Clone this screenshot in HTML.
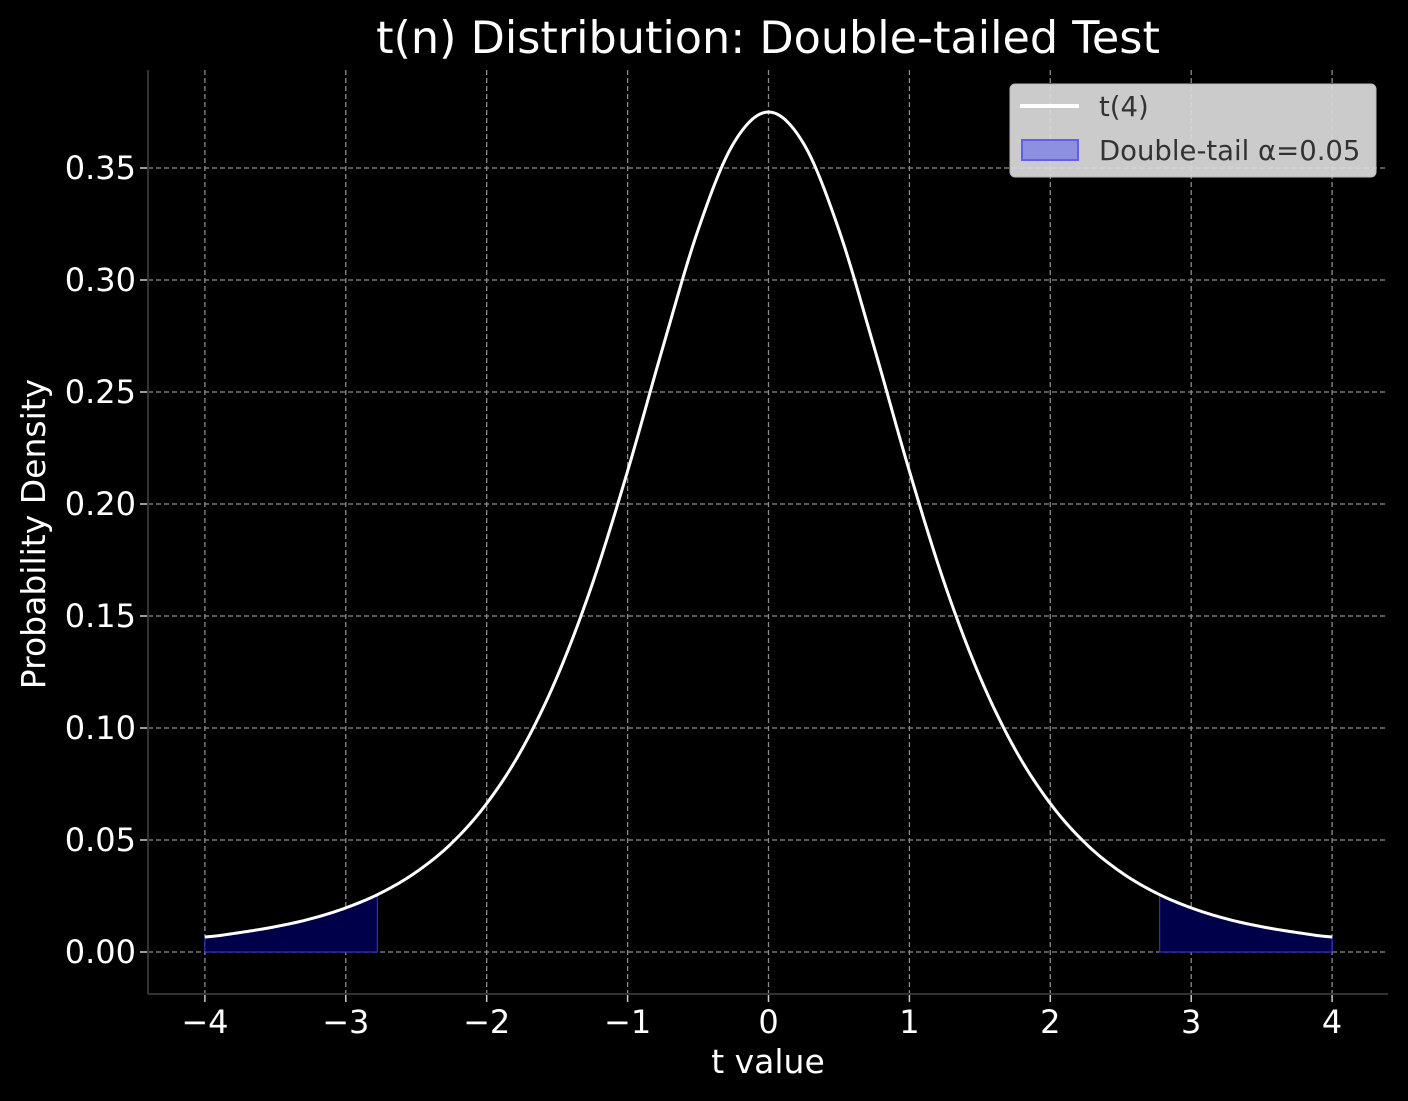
<!DOCTYPE html>
<html><head><meta charset="utf-8"><style>
html,body{margin:0;padding:0;background:#000;}
svg{display:block;font-family:"DejaVu Sans","Liberation Sans",sans-serif;}
</style></head><body>
<svg id="chart" width="1408" height="1101" viewBox="0 0 1408 1101">
<rect width="1408" height="1101" fill="#000"/>
<g id="grid"></g>
<g id="fills"></g>
<g id="curve"></g>
<g id="axes"></g>
<text x="768" y="53" fill="#fff" font-size="44.5" text-anchor="middle">t(n) Distribution: Double-tailed Test</text>
<text x="768" y="1073" fill="#fff" font-size="33" text-anchor="middle">t value</text>
<text x="45" y="534" fill="#fff" font-size="33" text-anchor="middle" transform="rotate(-90 45 534)">Probability Density</text>
<g>
<rect x="1010" y="84" width="366" height="93" rx="5" fill="rgba(220,220,220,0.92)" stroke="#bbb"/>
<line x1="1020" y1="106" x2="1079" y2="106" stroke="#fff" stroke-width="4"/>
<text x="1099" y="116" fill="#333" font-size="27.5">t(4)</text>
<rect x="1022" y="140" width="56" height="20" fill="#8f8fe0" stroke="#6060f0" stroke-width="2"/>
<text x="1099" y="160" fill="#333" font-size="27.5">Double-tail α=0.05</text>
</g>
</svg>
<script>
const xValues=[-4,-3.75,-3.5,-3.25,-3,-2.75,-2.5,-2.25,-2,-1.75,-1.5,-1.25,-1,-0.75,-0.5,-0.25,0,0.25,0.5,0.75,1,1.25,1.5,1.75,2,2.25,2.5,2.75,3,3.25,3.5,3.75,4];
const densityValues=[0.0067,0.0087,0.0113,0.0148,0.0197,0.0264,0.0357,0.0485,0.0663,0.0905,0.1229,0.1644,0.2147,0.2699,0.3223,0.3608,0.375,0.3608,0.3223,0.2699,0.2147,0.1644,0.1229,0.0905,0.0663,0.0485,0.0357,0.0264,0.0197,0.0148,0.0113,0.0087,0.0067];
const criticalValue=2.776;
const xTicks=[-4,-3,-2,-1,0,1,2,3,4];
const xTickLabels=["−4","−3","−2","−1","0","1","2","3","4"];
const yTicks=[0,0.05,0.10,0.15,0.20,0.25,0.30,0.35];
const yTickLabels=["0.00","0.05","0.10","0.15","0.20","0.25","0.30","0.35"];
const NS="http://www.w3.org/2000/svg";
const L=148,R=1388,T=70,B=994;
const sx=v=>768.5+v*140.9;
const sy=v=>952-v*2240;
function mk(tag,attrs,parent){const e=document.createElementNS(NS,tag);for(const k in attrs)e.setAttribute(k,attrs[k]);parent.appendChild(e);return e;}
const grid=document.getElementById('grid'),axes=document.getElementById('axes');
xTicks.forEach((t,i)=>{
 const g=mk('line',{x1:sx(t),x2:sx(t),y1:T,y2:B,stroke:'#8a8a8a','stroke-width':1.3,'stroke-dasharray':'5,3'},grid);
 
 
 const tk=mk('line',{x1:sx(t),x2:sx(t),y1:B,y2:B+8,stroke:'#ccc','stroke-width':1.5},axes);
 
 
 const tx=mk('text',{x:sx(t),y:B+39,fill:'#fff','font-size':32,'text-anchor':'middle'},axes);
 tx.textContent=xTickLabels[i];
 
 
});
yTicks.forEach((t,i)=>{
 const g=mk('line',{x1:L,x2:R,y1:sy(t),y2:sy(t),stroke:'#8a8a8a','stroke-width':1.3,'stroke-dasharray':'5,3'},grid);
 
 
 const tk=mk('line',{x1:L-8,x2:L,y1:sy(t),y2:sy(t),stroke:'#ccc','stroke-width':1.5},axes);
 
 
 const tx=mk('text',{x:L-12,y:sy(t)+11,fill:'#fff','font-size':32,'text-anchor':'end'},axes);
 tx.textContent=yTickLabels[i];
 
 
});
const sp1=mk('line',{x1:L,x2:L,y1:T,y2:B,stroke:'#333','stroke-width':2},axes);


const sp2=mk('line',{x1:L,x2:R,y1:B,y2:B,stroke:'#333','stroke-width':2},axes);


function interp(x){
 const n=xValues.length;
 if(x<=xValues[0])return densityValues[0];
 if(x>=xValues[n-1])return densityValues[n-1];
 let i=0;while(xValues[i+1]<x)i++;
 const p0=densityValues[Math.max(i-1,0)],p1=densityValues[i],p2=densityValues[i+1],p3=densityValues[Math.min(i+2,n-1)];
 const t=(x-xValues[i])/(xValues[i+1]-xValues[i]);
 return 0.5*((2*p1)+(-p0+p2)*t+(2*p0-5*p1+4*p2-p3)*t*t+(-p0+3*p1-3*p2+p3)*t*t*t);
}
const x0=xValues[0],x1=xValues[xValues.length-1];
let d='';
for(let k=0;k<=400;k++){const x=x0+(x1-x0)*k/400;d+=(k?'L':'M')+sx(x).toFixed(2)+','+sy(interp(x)).toFixed(2);}
const fills=document.getElementById('fills');
function tail(a,b,name){
 let p='M'+sx(a)+','+sy(0);
 for(let k=0;k<=60;k++){const x=a+(b-a)*k/60;p+='L'+sx(x).toFixed(2)+','+sy(interp(x)).toFixed(2);}
 p+='L'+sx(b)+','+sy(0)+'Z';
 const e=mk('path',{d:p,fill:'#00004a',stroke:'#3030c0','stroke-width':1.2},fills);
 
 
}
tail(x0,-criticalValue,'left-tail-fill');
tail(criticalValue,x1,'right-tail-fill');
const c=mk('path',{d:d,fill:'none',stroke:'#fff','stroke-width':3},document.getElementById('curve'));


</script>
</body></html>
